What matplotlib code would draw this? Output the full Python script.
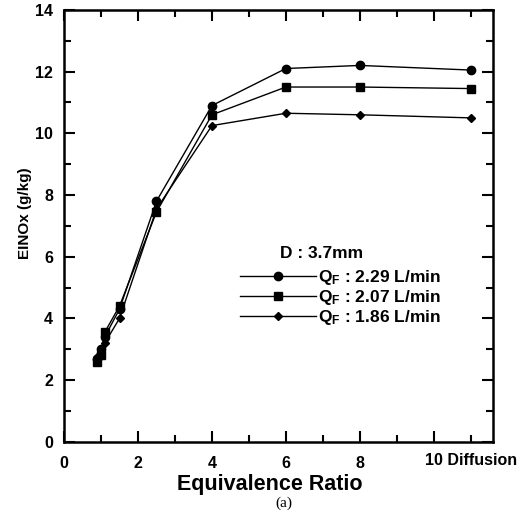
import matplotlib.pyplot as plt
from matplotlib.ticker import MultipleLocator

plt.rcParams['font.family'] = 'Liberation Sans'
plt.rcParams['font.weight'] = 'bold'
plt.rcParams['mathtext.fontset'] = 'custom'
plt.rcParams['mathtext.rm'] = 'Liberation Sans:bold'
plt.rcParams['mathtext.bf'] = 'Liberation Sans:bold'

# equivalence ratio (11 = diffusion flame)
phi = [0.9, 1.0, 1.1, 1.5, 2.5, 4, 6, 8, 11]
einox_229 = [2.7, 3.0, 3.4, 4.3, 7.8, 10.9, 12.1, 12.2, 12.05]
einox_207 = [2.6, 2.8, 3.55, 4.4, 7.45, 10.6, 11.5, 11.5, 11.45]
einox_186 = [2.75, 2.9, 3.2, 4.0, 7.55, 10.25, 10.65, 10.6, 10.5]
labels = ['$\\mathrm{Q_F}$ : 2.29 L/min', '$\\mathrm{Q_F}$ : 2.07 L/min', '$\\mathrm{Q_F}$ : 1.86 L/min']

fig = plt.figure(figsize=(5.25, 5.21), dpi=100)
ax = fig.add_axes([0.122, 0.152, 0.817, 0.829])

ax.plot(phi, einox_229, 'k-', marker='o', ms=6, lw=1, label=labels[0])
ax.plot(phi, einox_207, 'k-', marker='s', ms=5.5, lw=1, label=labels[1])
ax.plot(phi, einox_186, 'k-', marker='D', ms=4, lw=1, label=labels[2])

ax.set_xlim(0, 11.6)
ax.set_ylim(0, 14)
ax.set_xticks([0, 2, 4, 6, 8, 10])
ax.set_xticklabels(['0', '2', '4', '6', '8', ''])
ax.xaxis.set_minor_locator(MultipleLocator(1))
ax.yaxis.set_major_locator(MultipleLocator(2))
ax.yaxis.set_minor_locator(MultipleLocator(1))
ax.tick_params(which='both', direction='in', top=True, right=True, labelsize=11.5, width=1.5)
ax.tick_params(which='major', length=8)
ax.tick_params(axis='x', which='major', pad=10)
ax.tick_params(axis='y', which='major', pad=8)
ax.tick_params(which='minor', length=5)
for s in ax.spines.values():
    s.set_linewidth(1.8)

ax.text(11, -0.36, '10 Diffusion', ha='center', va='top', fontsize=11.5, fontweight='bold')

ax.set_xlabel('Equivalence Ratio', fontsize=15.5, fontweight='bold')
ax.xaxis.set_label_coords(0.48, -0.075)
ax.set_ylabel('EINOx (g/kg)', fontsize=11, fontweight='bold')
ax.yaxis.set_label_coords(-0.074, 0.53)
fig.text(0.54, 0.034, '(a)', ha='center', va='center', fontsize=11,
         family='Liberation Serif', fontweight='normal')

ax.text(5.85, 6.12, 'D : 3.7mm', fontsize=12.5, fontweight='bold', va='center')
ax.legend(loc='upper left', bbox_to_anchor=(0.394, 0.418), frameon=False,
          handlelength=4.4, handletextpad=0.1, labelspacing=0.05, fontsize=12.5,
          borderaxespad=0)

fig.savefig('out.png', dpi=100)
